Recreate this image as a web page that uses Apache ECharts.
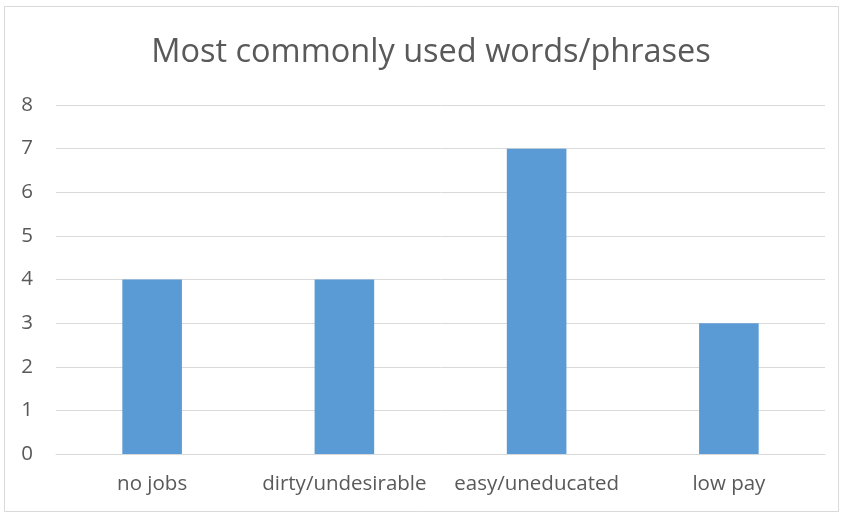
<!DOCTYPE html>
<html>
<head>
<meta charset="utf-8">
<script src="https://cdn.jsdelivr.net/npm/echarts@6/dist/echarts.min.js"></script>
<style>
html,body{margin:0;padding:0;background:#fff;}
#chart{width:843px;height:514px;}
</style>
</head>
<body>
<div id="chart"></div>
<script>
// Word/phrase frequencies
const categories = ['no jobs', 'dirty/undesirable', 'easy/uneducated', 'low pay'];
const counts = [4, 4, 7, 3];
const yTicks = [0, 1, 2, 3, 4, 5, 6, 7, 8];

const chart = echarts.init(document.getElementById('chart'), null, {renderer: 'canvas'});
const textColor = '#595959';
const font = '"Open Sans", "Liberation Sans", sans-serif';

chart.setOption({
  animation: false,
  backgroundColor: '#ffffff',
  title: {
    text: 'Most commonly used words/phrases',
    left: 426,
    top: 31,
    textAlign: 'center',
    textStyle: {color: textColor, fontFamily: font, fontSize: 32.5, fontWeight: 'normal'}
  },
  graphic: [{
    type: 'rect',
    shape: {x: 4.5, y: 6.5, width: 834, height: 505},
    style: {fill: 'none', stroke: '#D9D9D9', lineWidth: 1},
    silent: true,
    z: -1
  }],
  grid: {left: 56, right: 18, top: 105, bottom: 60, containLabel: false},
  xAxis: {
    type: 'category',
    data: categories,
    axisLine: {show: true, lineStyle: {color: '#D9D9D9', width: 1}},
    axisTick: {show: false},
    axisLabel: {color: textColor, fontFamily: font, fontSize: 20.5, margin: 20, interval: 0, hideOverlap: false}
  },
  yAxis: {
    type: 'value',
    min: yTicks[0],
    max: yTicks[yTicks.length - 1],
    interval: 1,
    axisLine: {show: false},
    axisTick: {show: false},
    splitLine: {lineStyle: {color: '#D9D9D9', width: 1}},
    axisLabel: {color: textColor, fontFamily: font, fontSize: 20.5, margin: 23}
  },
  series: [{
    type: 'bar',
    data: counts,
    barWidth: '31%',
    itemStyle: {color: '#5B9BD5'}
  }]
});
</script>
</body>
</html>
